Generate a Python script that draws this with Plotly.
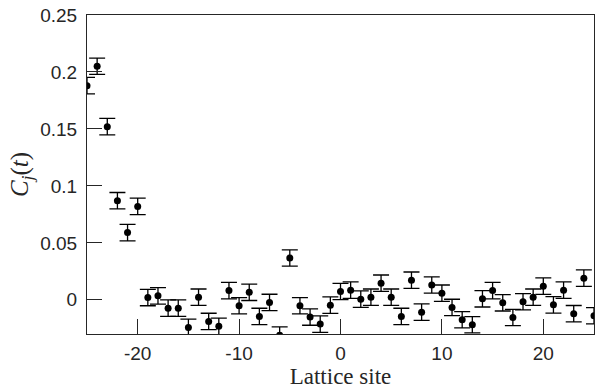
import plotly.graph_objects as go

sites = list(range(-25, 26))
corr = [0.188, 0.205, 0.152, 0.087, 0.059, 0.082, 0.002, 0.0035, -0.0073, -0.0073,
        -0.0242, 0.0023, -0.019, -0.0233, 0.0081, -0.0052, 0.0066, -0.0146, -0.0023, -0.031,
        0.0367, -0.0052, -0.0151, -0.0213, -0.0047, 0.0073, 0.0085, 0.0006, 0.0023, 0.0146,
        0.0023, -0.0146, 0.0172, -0.0108, 0.013, 0.0058, -0.0067, -0.0175, -0.0219, 0.0009,
        0.0081, -0.0026, -0.0155, -0.0017, 0.0023, 0.012, -0.0044, 0.0085, -0.0122, 0.019,
        -0.014]
err = [0.0072] * len(sites)

xticks = [-20, -10, 0, 10, 20]
xtick_labels = ["-20", "-10", "0", "10", "20"]
yticks = [0, 0.05, 0.1, 0.15, 0.2, 0.25]
ytick_labels = ["0", "0.05", "0.1", "0.15", "0.2", "0.25"]

fig = go.Figure()
fig.add_trace(go.Scatter(
    x=sites, y=corr, mode="markers",
    marker=dict(color="black", size=7),
    error_y=dict(type="data", array=err, visible=True, color="black", thickness=1.3, width=8),
    showlegend=False,
))

serif = "Liberation Serif, Times New Roman, serif"
fig.update_layout(
    width=600, height=389,
    margin=dict(l=87, r=6, t=15, b=55),
    paper_bgcolor="white", plot_bgcolor="white",
    font=dict(family="Liberation Sans, Arial, sans-serif", size=19, color="#262626"),
    xaxis=dict(
        range=[-25, 25], tickvals=xticks, ticktext=xtick_labels, ticks="inside", ticklen=15,
        tickcolor="#262626", showline=True, linecolor="#262626", linewidth=1, mirror=True,
        showgrid=False, zeroline=False, ticklabelstandoff=2,
        title=dict(text="Lattice site", font=dict(family=serif, size=23, color="#262626"), standoff=2),
    ),
    yaxis=dict(
        range=[-0.03, 0.25], tickvals=yticks, ticktext=ytick_labels, ticks="inside", ticklen=15,
        tickcolor="#262626", showline=True, linecolor="#262626", linewidth=1, mirror=True,
        showgrid=False, zeroline=False, ticklabelstandoff=5,
        title=dict(text="<i>C<sub>j</sub></i>(<i>t</i>)", font=dict(family=serif, size=25, color="#262626"), standoff=4),
    ),
)

fig.write_html("out.html")
